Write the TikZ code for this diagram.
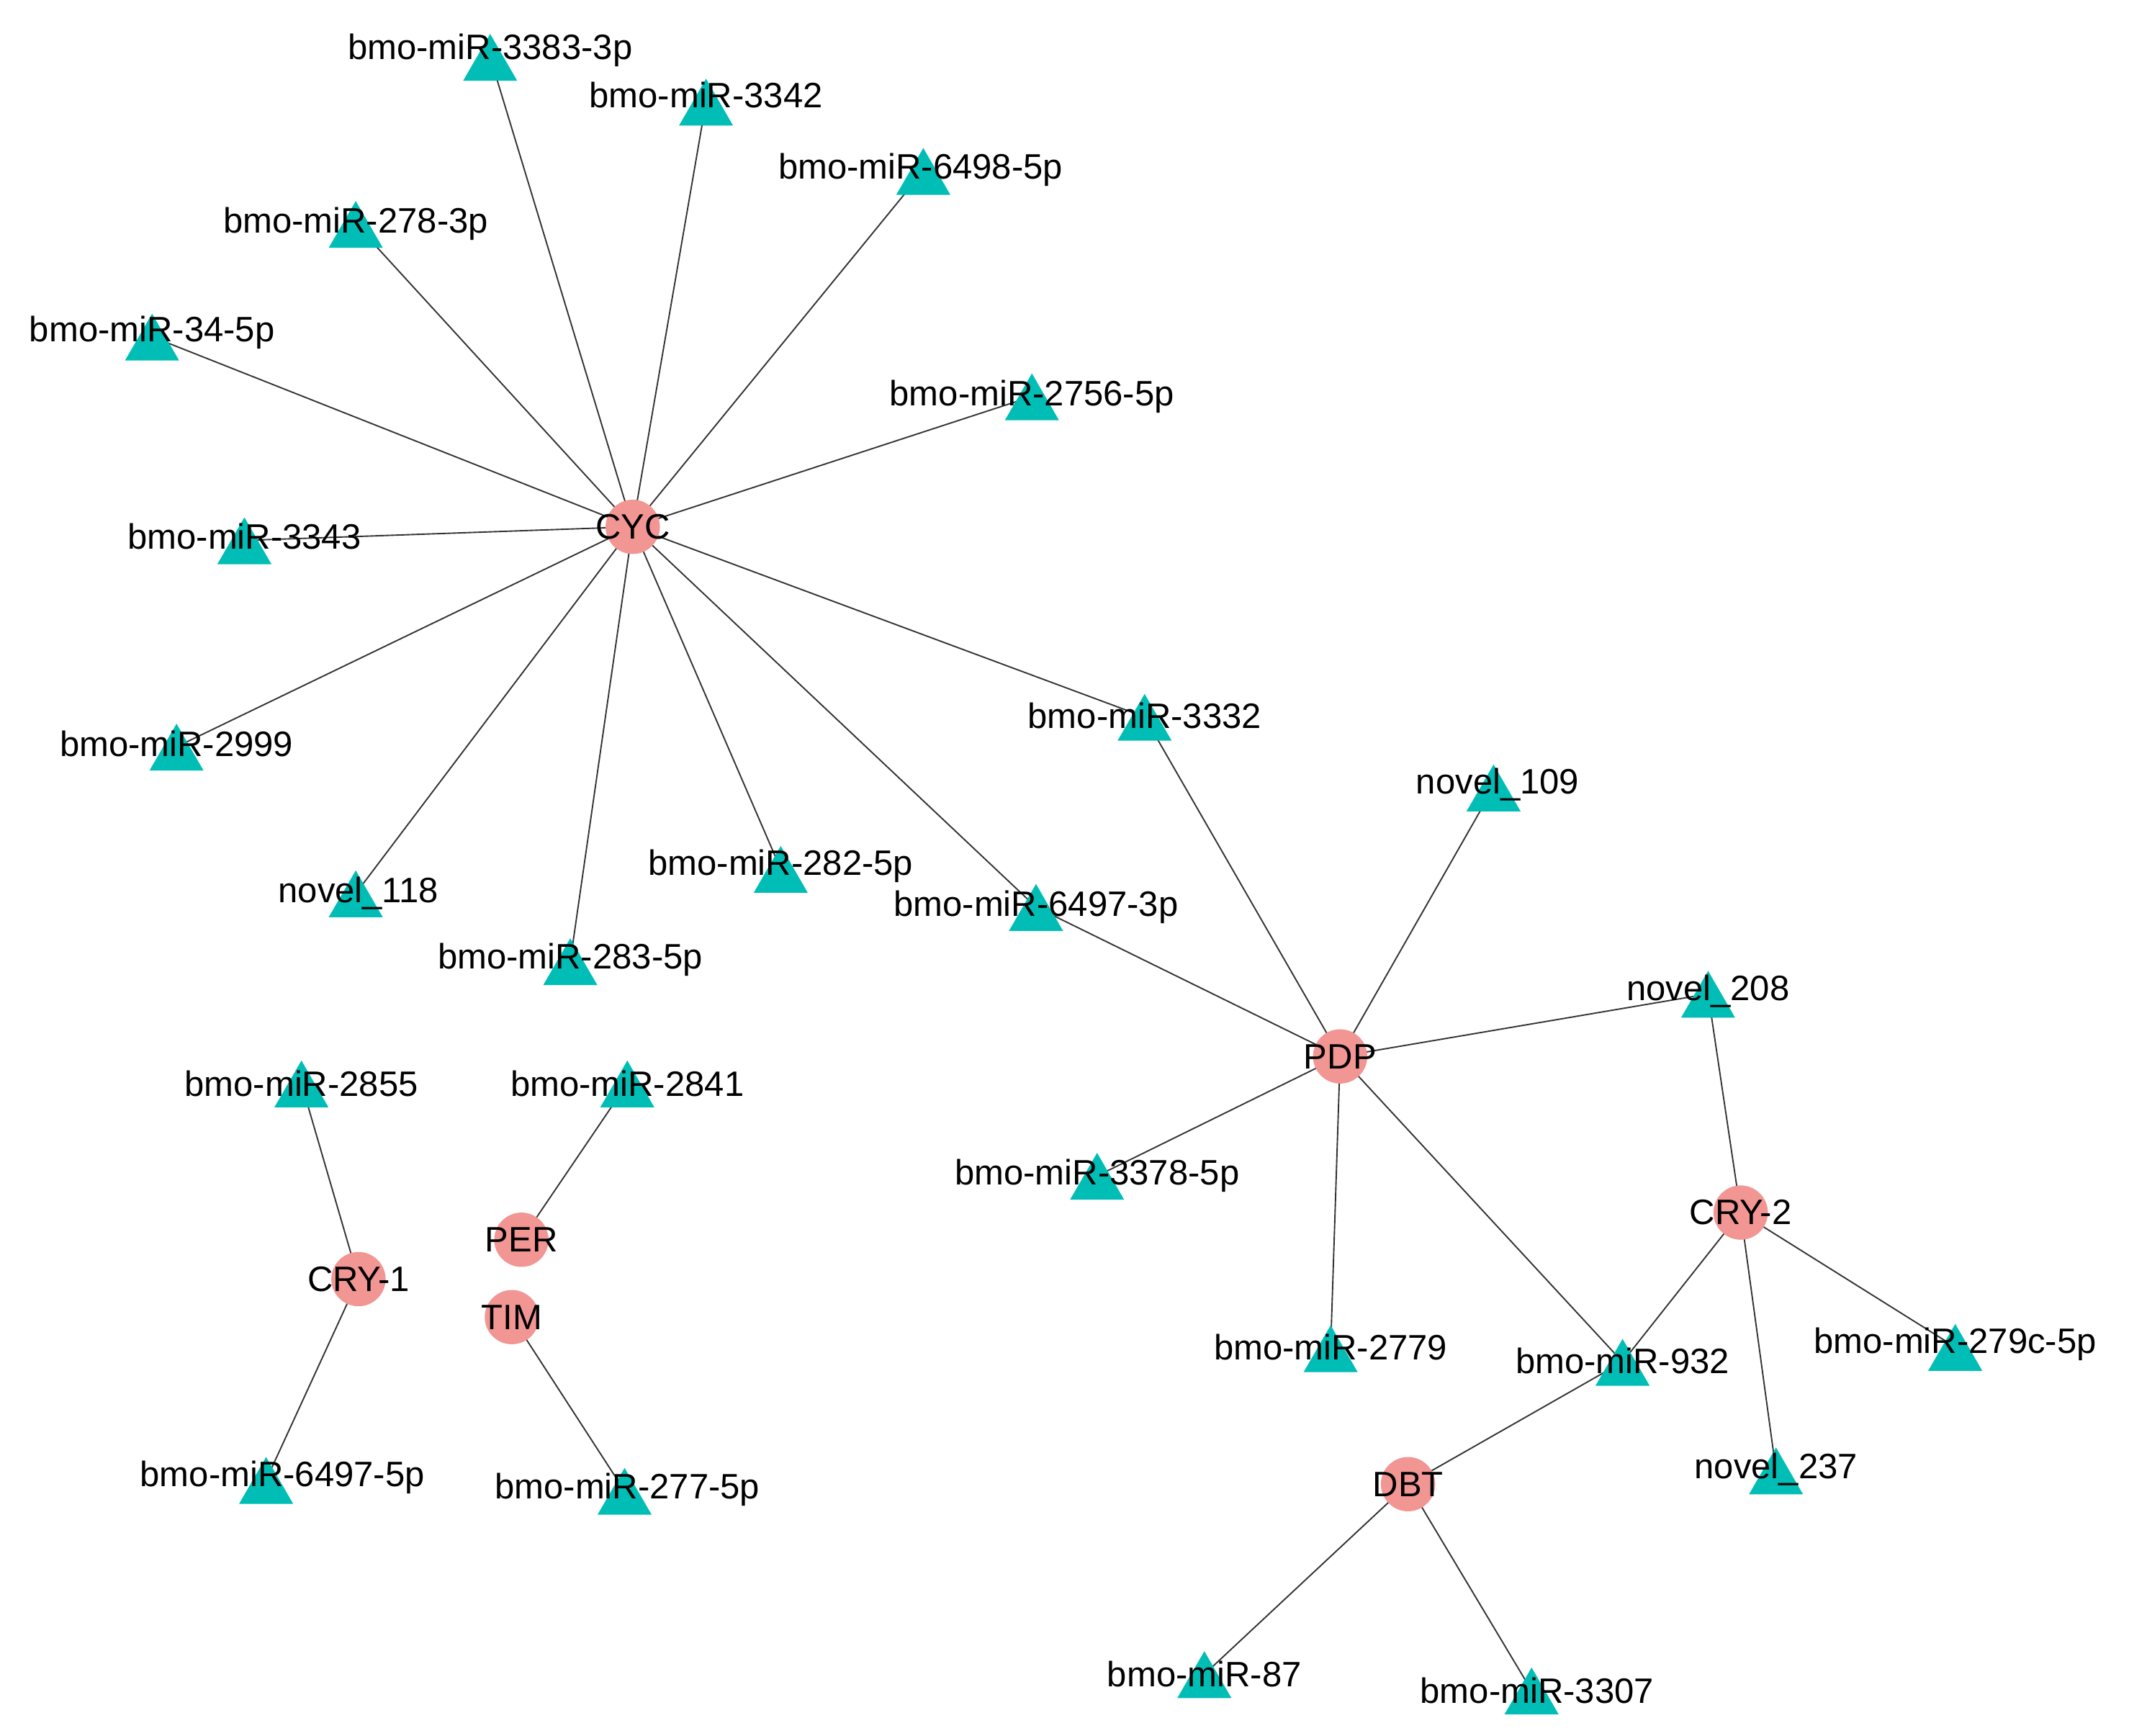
\documentclass[tikz,border=0pt]{standalone}
\usepackage{fontspec}
\setmainfont{Liberation Sans}
\usetikzlibrary{shapes.geometric}
\definecolor{tri}{RGB}{0,190,182}
\definecolor{gene}{RGB}{242,150,148}
\begin{document}
\begin{tikzpicture}[x=0.5pt,y=-0.5pt,
  t/.style={regular polygon,regular polygon sides=3,fill=tri,draw=none,minimum size=23pt,inner sep=0pt},
  g/.style={circle,fill=gene,draw=none,minimum size=20pt,inner sep=0pt},
  lab/.style={font=\fontsize{13}{13}\selectfont,inner sep=0pt},
  e/.style={draw=black!80,line width=0.5pt}]
\useasboundingbox (0,0) rectangle (1568,1278);
% triangles (name, pos)
\foreach \n/\x/\y in {a3383/361/42,a3342/520/75,a6498/680/126,a278/262/165,a34/112/248,a2756/760/292,a3343/180/398,a2999/130/550,n118/262/658,a283/420/708,a282/575/640,a6497t/763/668,a3332/843/528,n109/1100/580,n208/1258/732,a3378/808/866,a2779/980/993,a932/1195/1003,a279c/1440/992,n237/1308/1083,a87/887/1233,a3307/1128/1245,a2855/222/798,a6497f/196/1090,a2841/462/798,a277/460/1098}
  \coordinate (\n) at (\x,\y);
\foreach \n/\x/\y in {CYC/466/388,PDP/987/778,CRY2/1282/893,DBT/1037/1093,CRY1/264/942,PER/384/913,TIM/377/970}
  \coordinate (\n) at (\x,\y);
% edges
\foreach \b in {a3383,a3342,a6498,a278,a34,a2756,a3343,a2999,n118,a283,a282,a6497t,a3332}
  \draw[e] (CYC) -- (\b);
\foreach \b in {a3332,n109,n208,a3378,a2779,a932,a6497t}
  \draw[e] (PDP) -- (\b);
\foreach \b in {n208,a932,a279c,n237}
  \draw[e] (CRY2) -- (\b);
\foreach \b in {a932,a87,a3307}
  \draw[e] (DBT) -- (\b);
\draw[e] (CRY1) -- (a2855); \draw[e] (CRY1) -- (a6497f);
\draw[e] (PER) -- (a2841); \draw[e] (TIM) -- (a277);
% shapes
\foreach \n in {a3383,a3342,a6498,a278,a34,a2756,a3343,a2999,n118,a283,a282,a6497t,a3332,n109,n208,a3378,a2779,a932,a279c,n237,a87,a3307,a2855,a6497f,a2841,a277}
  \node[t,yshift=-3pt] (T\n) at (\n) {};
\foreach \n in {CYC,PDP,CRY2,DBT,CRY1,PER,TIM}
  \node[g] (G\n) at (\n) {};
% labels
\foreach \n/\x/\y/\s in {L1/361/37/bmo-miR-3383-3p,L2/520/70/bmo-miR-3342,L3/678/125/bmo-miR-6498-5p,L4/262/165/bmo-miR-278-3p,L5/112/245/bmo-miR-34-5p,L6/760/292/bmo-miR-2756-5p,L7/180/395/bmo-miR-3343,L8/130/548/bmo-miR-2999,L9/264/658/novel\_118,L10/420/707/bmo-miR-283-5p,L11/575/638/bmo-miR-282-5p,L12/763/668/bmo-miR-6497-3p,L13/843/527/bmo-miR-3332,L14/1103/578/novel\_109,L15/1258/730/novel\_208,L16/808/866/bmo-miR-3378-5p,L17/980/992/bmo-miR-2779,L18/1195/1002/bmo-miR-932,L19/1440/990/bmo-miR-279c-5p,L20/1308/1082/novel\_237,L21/887/1233/bmo-miR-87,L22/1132/1245/bmo-miR-3307,L23/222/798/bmo-miR-2855,L24/208/1088/bmo-miR-6497-5p,L25/462/798/bmo-miR-2841,L26/462/1097/bmo-miR-277-5p,L27/466/388/CYC,L28/987/778/PDP,L29/1282/893/CRY-2,L30/1037/1093/DBT,L31/264/942/CRY-1,L32/384/913/PER,L33/377/970/TIM}
  \node[lab] (\n) at (\x,\y) {\s};
\end{tikzpicture}
\end{document}
